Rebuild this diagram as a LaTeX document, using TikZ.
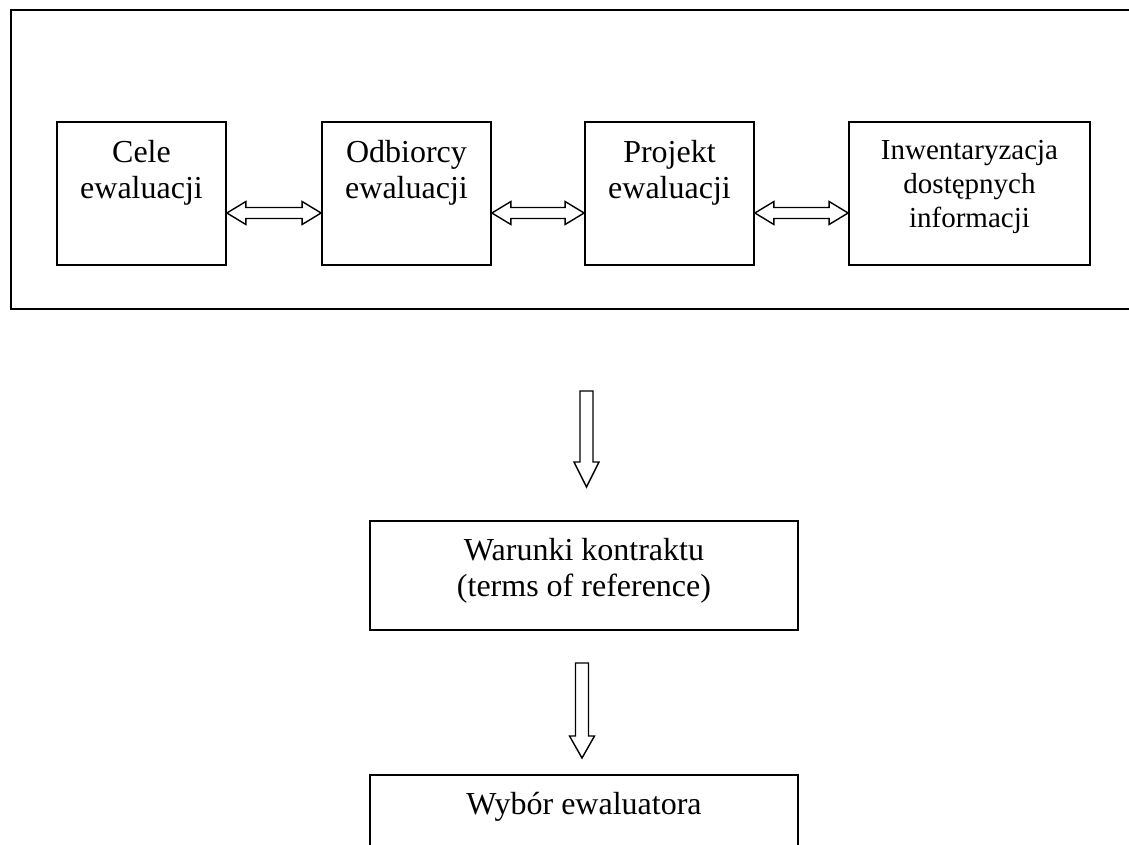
\documentclass[tikz,border=0pt]{standalone}
\usepackage{fontspec}
\setmainfont{Liberation Serif}
\usetikzlibrary{calc}
\tikzset{
  frame/.style={draw, line width=1.8pt, inner sep=0pt},
  box/.style={frame, minimum width=#1, minimum height=143pt},
  wide/.style={frame, minimum width=428pt, minimum height=#1},
  txt/.style={inner sep=0pt, anchor=base, font=\fontsize{32}{36}\selectfont},
  smalltxt/.style={inner sep=0pt, anchor=base, font=\fontsize{29}{34}\selectfont},
  blockarrow/.style={draw, line width=1.4pt, line join=miter, fill=white},
}
\newcommand\dblarrow[2]{%
  \path[blockarrow] let \p1=(#1), \p2=(#2) in
    (\x1,\y1) -- (\x1+19pt,\y1+11.5pt) -- (\x1+19pt,\y1+5.5pt)
    -- (\x2-19pt,\y1+5.5pt) -- (\x2-19pt,\y1+11.5pt) -- (\x2,\y1)
    -- (\x2-19pt,\y1-11.5pt) -- (\x2-19pt,\y1-5.5pt)
    -- (\x1+19pt,\y1-5.5pt) -- (\x1+19pt,\y1-11.5pt) -- cycle;}
\newcommand\downblockarrow[3]{%
  \path[blockarrow] let \p1=(#1), \p2=(#2) in
    (\x1-6.5pt,\y1) -- (\x1+6.5pt,\y1) -- (\x1+6.5pt,\y2+#3)
    -- (\x1+12.5pt,\y2+#3) -- (\x1,\y2) -- (\x1-12.5pt,\y2+#3)
    -- (\x1-6.5pt,\y2+#3) -- cycle;}
\begin{document}
\begin{tikzpicture}[x=1pt,y=-1pt]
\clip (0,0) rectangle (1129,844);
\fill[white] (0,0) rectangle (1129,844);

% outer frame (open to the right)
\node[frame, anchor=north west, minimum width=1140pt, minimum height=299pt] (outer) at (10,9) {};

% top row boxes
\node[box=169pt] (cele) at (141.5,193.5) {};
\node[box=169pt] (odb) at (406.5,193.5) {};
\node[box=169pt] (proj) at (669.5,193.5) {};
\node[box=241pt] (inw) at (969.5,193.5) {};

\node[txt] (tcele) at (141.5,162) {\begin{tabular}[t]{@{}c@{}}Cele\\ewaluacji\end{tabular}};
\node[txt] (todb) at (406.5,162) {\begin{tabular}[t]{@{}c@{}}Odbiorcy\\ewaluacji\end{tabular}};
\node[txt] (tproj) at (669.5,162) {\begin{tabular}[t]{@{}c@{}}Projekt\\ewaluacji\end{tabular}};
\node[smalltxt] (tinw) at (969.5,159) {\begin{tabular}[t]{@{}c@{}}Inwentaryzacja\\dostępnych\\informacji\end{tabular}};

% double arrows between boxes
\coordinate (a1) at ($(cele.east)+(0,19.5)$);
\coordinate (b1) at ($(odb.west)+(0,19.5)$);
\coordinate (a2) at ($(odb.east)+(0,19.5)$);
\coordinate (b2) at ($(proj.west)+(0,19.5)$);
\coordinate (a3) at ($(proj.east)+(0,19.5)$);
\coordinate (b3) at ($(inw.west)+(0,19.5)$);
\dblarrow{a1}{b1}
\dblarrow{a2}{b2}
\dblarrow{a3}{b3}

% lower boxes
\node[wide=109pt] (war) at (584,575.5) {};
\node[txt] (twar) at (584,560) {\begin{tabular}[t]{@{}c@{}}Warunki kontraktu\\(terms of reference)\end{tabular}};
\node[wide=120pt, anchor=north] (wyb) at (584,774) {};
\node[txt] (twyb) at (584,814) {Wybór ewaluatora};

% down arrows
\coordinate (d1s) at (586.5,391);
\coordinate (d1e) at (586.5,487);
\downblockarrow{d1s}{d1e}{25pt}
\coordinate (d2s) at (582,663);
\coordinate (d2e) at (582,758);
\downblockarrow{d2s}{d2e}{22pt}
\end{tikzpicture}
\end{document}
